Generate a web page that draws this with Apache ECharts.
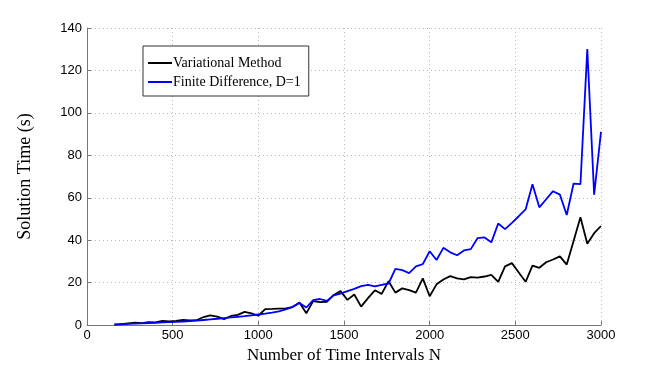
<!DOCTYPE html>
<html>
<head>
<meta charset="utf-8">
<script src="https://cdn.jsdelivr.net/npm/echarts@6/dist/echarts.min.js"></script>
<style>html,body{margin:0;padding:0;background:#fff}#c{width:664px;height:369px}</style>
</head>
<body>
<div id="c"></div>
<script>
var intervalsN = [160,200,240,280,320,360,400,440,480,520,560,600,640,680,720,760,800,840,880,920,960,1000,
  1040,1080,1120,1160,1200,1240,1280,1320,1360,1400,1440,1480,1520,1560,1600,1640,1680,1720,1760,1800,1840,1880,
  1920,1960,2000,2040,2080,2120,2160,2200,2240,2280,2320,2360,2400,2440,2480,2520,2560,2600,2640,2680,2720,2760,
  2800,2840,2880,2920,2960,3000];
var variational = [0.2,0.5,0.8,1.1,0.9,1.4,1.3,2.0,1.7,2.0,2.5,2.2,2.3,3.8,4.6,4.0,2.8,4.3,4.8,6.2,5.5,4.4,
  7.5,7.6,7.8,7.9,8.5,10.6,5.6,11.3,10.8,11.0,14.2,16.0,11.9,14.4,8.7,12.7,16.4,14.7,20.7,15.3,17.3,16.5,
  15.3,22.0,13.6,19.2,21.5,23.1,22.0,21.5,22.6,22.4,22.9,23.7,20.4,27.7,29.2,24.8,20.4,28.0,27.0,29.6,30.9,32.4,
  28.5,39.6,50.8,38.3,43.3,46.7];
var finiteDiff = [0.3,0.4,0.6,0.7,0.8,1.0,1.1,1.3,1.4,1.5,1.7,1.9,2.1,2.4,2.7,3.0,3.3,3.6,3.9,4.2,4.6,5.0,
  5.4,5.9,6.5,7.4,8.6,10.4,8.3,11.8,12.3,11.4,14.0,14.8,16.0,17.1,18.4,19.0,18.2,19.0,19.6,26.5,25.9,24.5,
  27.7,28.7,34.8,30.7,36.4,34.3,32.9,35.2,35.8,41.0,41.3,39.0,47.9,45.2,48.2,51.3,54.5,66.4,55.5,59.3,63.1,61.5,
  51.9,66.7,66.4,130.1,61.5,91.1];
var seriesNames = ['Variational Method', 'Finite Difference, D=1'];

function pairs(xs, ys){ return xs.map(function(x,i){ return [x, ys[i]]; }); }

var serif = 'Liberation Serif';
var sans = 'Liberation Sans';
var chart = echarts.init(document.getElementById('c'), null, {renderer:'canvas'});
chart.setOption({
  animation: false,
  backgroundColor: '#fff',
  grid: {left: 87, right: 63, top: 28, bottom: 41, containLabel: false},
  legend: {
    data: seriesNames,
    orient: 'vertical',
    left: 143, top: 46,
    padding: [10, 8, 7, 5],
    itemGap: 5,
    icon: 'rect',
    itemWidth: 24, itemHeight: 2,
    backgroundColor: '#fff',
    borderColor: '#333', borderWidth: 1,
    textStyle: {fontFamily: serif, fontSize: 14, color: '#000', padding: [0,0,0,-4], lineHeight: 14}
  },
  xAxis: {
    type: 'value', min: 0, max: 3000, interval: 500,
    name: 'Number of Time Intervals N', nameLocation: 'middle', nameGap: 17,
    nameTextStyle: {fontFamily: serif, fontSize: 17, color: '#000'},
    axisLine: {show: true, onZero: false, lineStyle: {color: '#777', width: 1}},
    axisTick: {show: true, inside: true, length: 4, lineStyle: {color: '#777'}},
    axisLabel: {fontFamily: sans, fontSize: 13, color: '#000', margin: 4, formatter: function(v){ return String(v); }},
    splitLine: {show: true, lineStyle: {color: '#bbb', type: [1, 3], width: 1}}
  },
  yAxis: {
    type: 'value', min: 0, max: 140, interval: 20,
    name: 'Solution Time (s)', nameLocation: 'middle', nameGap: 53,
    nameTextStyle: {fontFamily: serif, fontSize: 18, color: '#000'},
    axisLine: {show: true, onZero: false, lineStyle: {color: '#777', width: 1}},
    axisTick: {show: true, inside: true, length: 4, lineStyle: {color: '#777'}},
    axisLabel: {fontFamily: sans, fontSize: 13, color: '#000', margin: 5},
    splitLine: {show: true, lineStyle: {color: '#bbb', type: [1, 3], width: 1}}
  },
  series: [
    {name: seriesNames[0], type: 'line', data: pairs(intervalsN, variational), symbol: 'none',
     lineStyle: {color: '#000', width: 1.8}, itemStyle: {color: '#000'}},
    {name: seriesNames[1], type: 'line', data: pairs(intervalsN, finiteDiff), symbol: 'none',
     lineStyle: {color: '#0000ff', width: 1.8}, itemStyle: {color: '#0000ff'}}
  ]
});
</script>
</body>
</html>
